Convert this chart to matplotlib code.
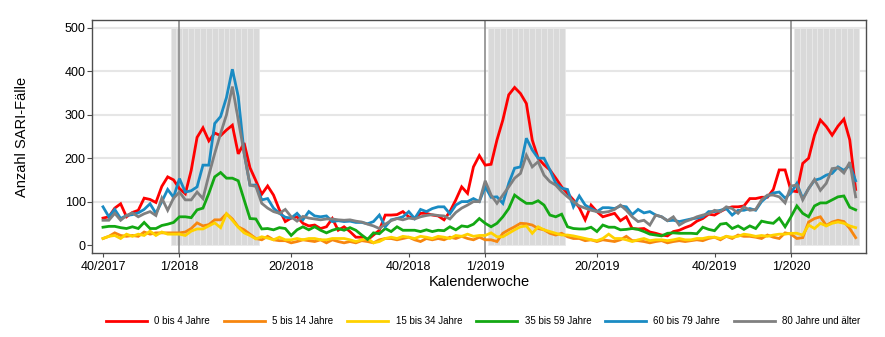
import matplotlib
matplotlib.use("Agg")
import matplotlib.pyplot as plt
import numpy as np

plt.rcParams['font.family'] = ['Liberation Sans', 'DejaVu Sans']

# weekly SARI cases per age group, week 40/2017 .. week 12/2020
red = [62, 65, 85, 95, 65, 75, 80, 108, 105, 98, 135, 157, 150,
       130, 118, 172, 248, 270, 240, 258, 252, 265, 276, 210, 235, 178,
       148, 117, 136, 115, 81, 54, 62, 65, 50, 44, 46, 38, 42,
       61, 34, 42, 31, 18, 18, 12, 23, 34, 69, 69, 70, 77,
       65, 61, 73, 73, 69, 67, 58, 77, 104, 134, 119, 180, 206,
       184, 186, 242, 288, 346, 363, 349, 326, 242, 200, 185, 173, 154,
       134, 119, 104, 86, 58, 92, 77, 65, 69, 73, 56, 65, 38,
       37, 38, 30, 27, 23, 21, 31, 34, 40, 45, 55, 61, 71,
       69, 77, 84, 88, 88, 90, 107, 107, 110, 110, 128, 173, 173,
       125, 123, 188, 200, 253, 288, 273, 253, 274, 290, 242, 128]
orange = [15, 20, 28, 22, 20, 22, 20, 30, 25, 28, 28, 28, 28,
          28, 30, 38, 51, 44, 47, 58, 58, 72, 60, 42, 35, 25,
          15, 12, 20, 12, 10, 10, 5, 8, 12, 10, 8, 12, 5,
          12, 8, 5, 8, 5, 10, 8, 5, 12, 15, 15, 12, 15,
          18, 12, 8, 15, 12, 15, 12, 18, 15, 20, 15, 12, 18,
          12, 12, 8, 27, 35, 42, 50, 49, 46, 38, 35, 27, 23,
          27, 19, 15, 15, 10, 12, 8, 12, 10, 8, 12, 20, 10,
          10, 8, 5, 8, 10, 5, 8, 10, 8, 10, 12, 10, 15,
          18, 12, 20, 15, 23, 20, 20, 18, 15, 23, 18, 15, 28,
          25, 15, 17, 53, 61, 65, 45, 53, 57, 54, 38, 17]
yellow = [15, 20, 22, 15, 25, 20, 25, 22, 32, 22, 30, 25, 25,
          25, 22, 32, 37, 37, 44, 51, 40, 72, 57, 41, 28, 22,
          14, 19, 16, 12, 18, 12, 12, 15, 12, 15, 15, 12, 12,
          15, 15, 15, 12, 8, 12, 15, 5, 8, 15, 18, 15, 20,
          18, 15, 20, 18, 15, 20, 18, 15, 22, 20, 25, 20, 22,
          22, 28, 19, 19, 27, 35, 42, 44, 27, 42, 35, 31, 27,
          23, 23, 21, 18, 15, 12, 10, 15, 25, 15, 15, 12, 8,
          12, 15, 10, 12, 12, 10, 12, 15, 12, 12, 15, 15, 18,
          18, 15, 20, 18, 20, 25, 23, 20, 22, 20, 23, 25, 25,
          27, 27, 23, 46, 38, 50, 44, 50, 53, 50, 44, 40]
green = [41, 43, 43, 40, 38, 42, 38, 52, 38, 38, 45, 48, 52,
         65, 65, 63, 81, 85, 119, 157, 167, 154, 154, 148, 104, 61,
         60, 37, 38, 35, 40, 38, 22, 35, 42, 35, 42, 34, 28,
         34, 38, 34, 40, 34, 23, 13, 28, 26, 38, 31, 42, 34,
         34, 34, 31, 35, 31, 34, 33, 42, 35, 44, 42, 48, 61,
         50, 42, 50, 65, 84, 115, 105, 96, 96, 102, 92, 69, 65,
         71, 42, 38, 37, 37, 41, 31, 46, 41, 41, 35, 36, 38,
         36, 31, 25, 23, 21, 27, 28, 27, 27, 27, 26, 41, 36,
         33, 48, 50, 38, 44, 36, 44, 38, 55, 52, 50, 62, 42,
         65, 90, 73, 65, 90, 97, 97, 104, 111, 113, 87, 81]
blue = [88, 65, 82, 61, 68, 70, 74, 82, 95, 73, 100, 128, 110,
        153, 122, 125, 134, 184, 184, 280, 296, 340, 405, 342, 212, 138,
        138, 104, 107, 85, 73, 64, 62, 73, 58, 77, 67, 65, 67,
        54, 56, 54, 55, 52, 52, 49, 54, 69, 42, 58, 61, 65,
        77, 61, 82, 77, 84, 88, 88, 72, 92, 100, 100, 107, 100,
        134, 110, 111, 96, 142, 177, 180, 246, 219, 200, 200, 173, 142,
        131, 128, 88, 113, 92, 84, 77, 86, 86, 84, 90, 88, 70,
        82, 74, 77, 69, 65, 56, 57, 54, 57, 60, 62, 65, 77,
        77, 80, 84, 69, 80, 80, 84, 80, 100, 112, 120, 122, 108,
        120, 142, 107, 130, 149, 153, 161, 165, 180, 172, 184, 148]
gray = [57, 57, 73, 57, 68, 74, 65, 72, 77, 68, 108, 80, 108,
        122, 104, 104, 122, 107, 161, 211, 257, 300, 365, 288, 212, 138,
        135, 96, 85, 77, 73, 82, 65, 55, 66, 62, 60, 58, 60,
        60, 58, 57, 58, 55, 53, 48, 44, 38, 48, 56, 61, 58,
        62, 60, 65, 68, 70, 68, 67, 60, 75, 85, 92, 100, 100,
        148, 115, 96, 115, 134, 154, 165, 207, 180, 192, 161, 146, 138,
        123, 111, 100, 90, 85, 80, 77, 75, 77, 82, 92, 80, 65,
        54, 57, 46, 69, 65, 56, 65, 46, 54, 59, 65, 69, 72,
        80, 77, 88, 84, 73, 88, 80, 82, 104, 115, 115, 111, 97,
        136, 138, 104, 130, 151, 126, 142, 176, 178, 166, 191, 111]

labels = ["0 bis 4 Jahre", "5 bis 14 Jahre", "15 bis 34 Jahre",
          "35 bis 59 Jahre", "60 bis 79 Jahre", "80 Jahre und älter"]
colors = ["#ff0000", "#f7860f", "#ffd200", "#13a813", "#1a8bc3", "#808080"]

# calendar weeks: 40/2017 .. 52/2017, 1..52/2018, 1..52/2019, 1..12/2020
weeks = ([f"{w}/2017" for w in range(40, 53)] + [f"{w}/2018" for w in range(1, 53)]
         + [f"{w}/2019" for w in range(1, 53)] + [f"{w}/2020" for w in range(1, 13)])
tick_weeks = ["40/2017", "1/2018", "20/2018", "40/2018", "1/2019",
              "20/2019", "40/2019", "1/2020"]
year_starts = ["1/2018", "1/2019", "1/2020"]

# influenza waves (shaded weeks)
waves = [("52/2017", "14/2018"), ("2/2019", "14/2019"), ("2/2020", "12/2020")]

x = np.arange(len(weeks))
pos = {w: i for i, w in enumerate(weeks)}

fig = plt.figure(figsize=(8.85, 3.37), dpi=100)
ax = fig.add_axes([92 / 885, 1 - 253 / 337, 774 / 885, 233 / 337])

for y in range(100, 501, 100):
    ax.axhline(y, color="#e6e6e6", lw=1.5, zorder=0)

for a, b in waves:
    xs = np.arange(pos[a], pos[b] + 1)
    ax.bar(xs, 500, width=1.0, color="#d9d9d9", edgecolor="#e9e9e9",
           linewidth=0.6, zorder=1)

for w in year_starts:
    ax.axvline(pos[w], color="#8c8c8c", lw=1.2, zorder=2)

series = [red, orange, yellow, green, blue, gray]
handles = []
for s, c, lab in zip(series, colors, labels):
    h, = ax.plot(x, s, color=c, lw=2.0, label=lab, zorder=3,
                 solid_joinstyle="miter")
    handles.append(h)

ax.set_xlim(-1.87, 129.76)
ax.set_ylim(-18.4, 518.4)
ax.set_yticks(range(0, 501, 100))
ax.set_xticks([pos[w] for w in tick_weeks])
ax.set_xticklabels(tick_weeks)

for sp in ax.spines.values():
    sp.set_color("#4d4d4d")
    sp.set_linewidth(1.0)
ax.tick_params(axis="y", length=3.6, pad=1, labelsize=9, color="#4d4d4d")
ax.tick_params(axis="x", length=3, pad=3, labelsize=9, color="#4d4d4d")

ax.set_xlabel("Kalenderwoche", fontsize=10.5, labelpad=1)
fig.text(22 / 885, 1 - 137 / 337, "Anzahl SARI-Fälle", rotation=90,
         ha="center", va="center", fontsize=10.5)

fig.legend(handles=handles, labels=labels, loc="center",
           bbox_to_anchor=(0.546, 0.047), ncol=6, frameon=False, fontsize=7,
           handlelength=4.2, handletextpad=0.8, columnspacing=1.4)

fig.savefig("out.png", dpi=100)
